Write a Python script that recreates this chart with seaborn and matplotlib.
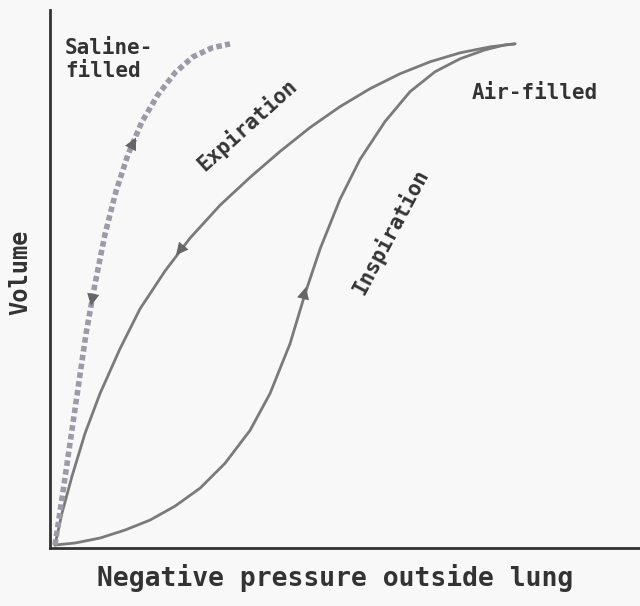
import matplotlib
matplotlib.use("Agg")
import matplotlib.pyplot as plt
import seaborn as sns

# curve points (x = pressure, y = volume)
insp_x = [5, 25, 50, 75, 100, 125, 150, 175, 200, 220, 240, 255, 270, 290, 310, 335, 360, 385, 410, 435, 455, 465]
insp_y = [3, 5, 10, 18, 28, 42, 60, 85, 118, 155, 205, 255, 300, 350, 390, 428, 458, 478, 491, 500, 505, 506]
exp_x = [465, 440, 410, 380, 350, 320, 290, 260, 230, 200, 170, 140, 115, 90, 70, 50, 35, 22, 12, 5]
exp_y = [506, 503, 497, 488, 476, 461, 443, 422, 398, 372, 344, 311, 278, 240, 200, 155, 115, 72, 35, 3]
sal_x = [5, 12, 20, 28, 36, 45, 55, 66, 78, 92, 108, 125, 143, 162, 180]
sal_y = [3, 50, 105, 160, 215, 265, 315, 358, 395, 428, 455, 477, 493, 502, 506]

sns.set_style("white")
fig = plt.figure(figsize=(6.4, 6.06), dpi=100, facecolor="#f8f8f8")
ax = fig.add_axes([50/640, 58/606, 590/640, 538/606])
ax.set_facecolor("#f8f8f8")
c = "#7a7a7a"
sns.lineplot(x=insp_x, y=insp_y, sort=False, ax=ax, color=c, lw=2)
sns.lineplot(x=exp_x, y=exp_y, sort=False, ax=ax, color=c, lw=2)
sns.lineplot(x=sal_x, y=sal_y, sort=False, ax=ax, color="#9a9aa8", lw=4, linestyle=(0, (1, 0.6)))
ax.set_xlim(0, 590)
ax.set_ylim(0, 540)
ax.set_xticks([]); ax.set_yticks([])
for s in ["top", "right"]:
    ax.spines[s].set_visible(False)
for s in ["left", "bottom"]:
    ax.spines[s].set_color("#333")
    ax.spines[s].set_linewidth(2)

def arrow(x0, y0, x1, y1):
    ax.annotate("", xy=(x1, y1), xytext=(x0, y0),
                arrowprops=dict(arrowstyle="-|>", color="#666", lw=0, mutation_scale=22,
                                shrinkA=0, shrinkB=0))
arrow(251, 242, 256, 262)      # inspiration, up
arrow(140, 311, 126, 294)      # expiration, down
arrow(79, 398, 86, 412)        # saline, up
arrow(45, 265, 41, 243)        # saline, down

font = dict(family="DejaVu Sans Mono", fontweight="bold", color="#333")
ax.text(15, 490, "Saline-\nfilled", fontsize=15, va="center", **font)
ax.text(422, 457, "Air-filled", fontsize=15, va="center", **font)
ax.text(197, 425, "Expiration", fontsize=15, rotation=42, ha="center", va="center", **font)
ax.text(340, 318, "Inspiration", fontsize=15, rotation=62, ha="center", va="center", **font)
fig.text(335/640, 1 - 578/606, "Negative pressure outside lung", fontsize=19, ha="center", va="center", **font)
fig.text(20/640, 1 - 272/606, "Volume", fontsize=17, rotation=90, ha="center", va="center", **font)
fig.savefig("out.png", dpi=100, facecolor=fig.get_facecolor())
